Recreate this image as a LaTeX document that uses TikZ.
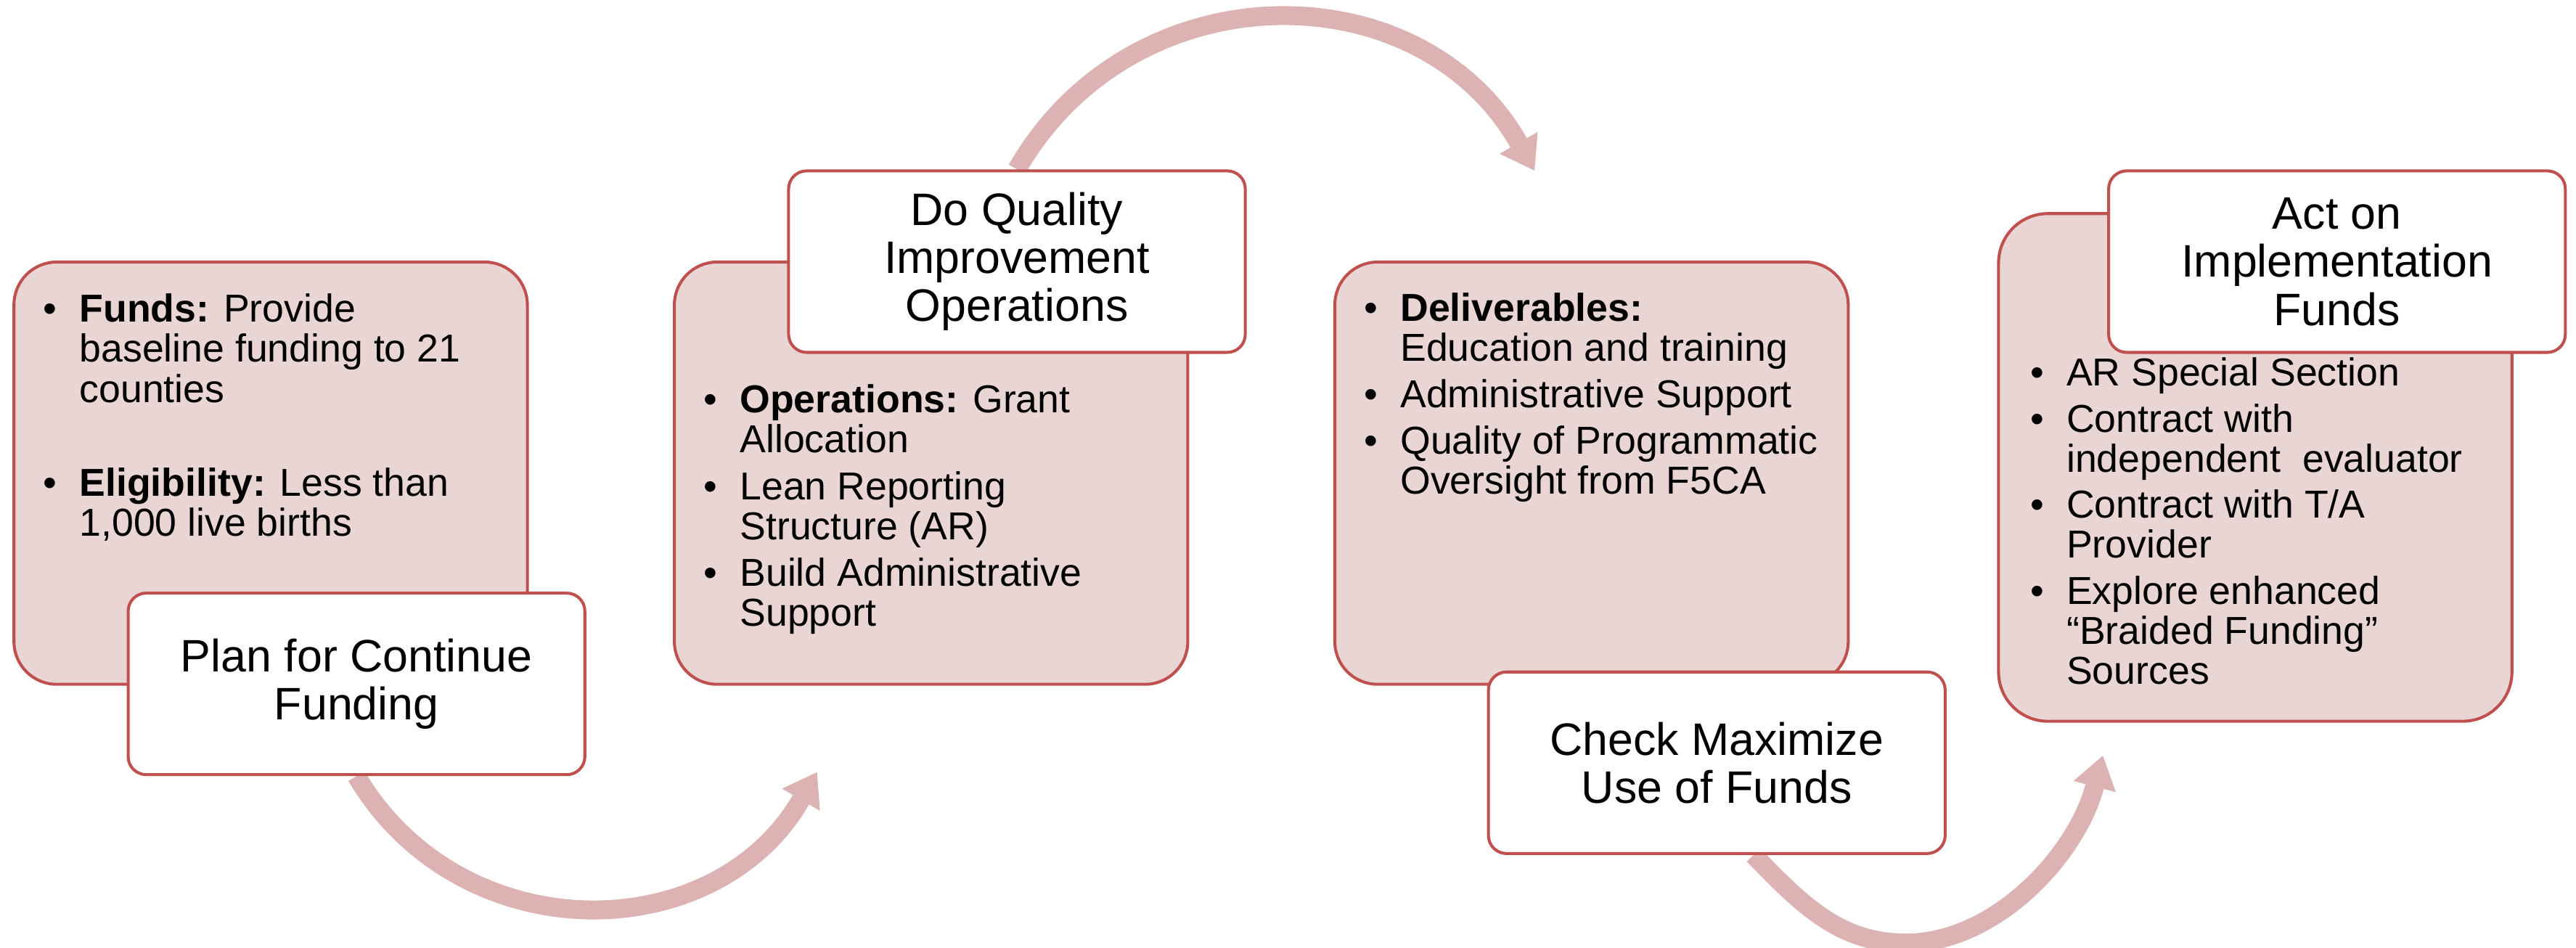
\documentclass[tikz,border=0pt]{standalone}
\usepackage{fontspec}
\setmainfont{Liberation Sans}
\usetikzlibrary{arrows.meta,calc}
\definecolor{boxred}{HTML}{C0504D}
\definecolor{boxpink}{HTML}{EAD5D5}
\definecolor{arcpink}{HTML}{DDB2B2}
\newcommand\mytitlefont{\fontsize{13.85}{14.65}\selectfont}
\newcommand\mybulletfont{\fontsize{11.85}{12.2}\selectfont}
\pgfdeclarelayer{bg}
\pgfsetlayers{bg,main}
\begin{document}
\begin{tikzpicture}[x=0.5pt,y=-0.5pt,
  pinkbox/.style={draw=boxred, line width=0.9pt, fill=boxpink, rounded corners=13pt, inner sep=0pt, minimum width=156.25pt, minimum height=128.5pt},
  whitebox/.style={draw=boxred, line width=0.9pt, fill=white, rounded corners=5.5pt, minimum width=139pt, minimum height=55.25pt, align=center, font=\mytitlefont, inner sep=0pt},
  bline/.style={anchor=base west, inner sep=0pt, font=\mybulletfont},
  bdot/.style={anchor=base, inner sep=0pt, font=\mybulletfont},
  arcflow/.style={draw=arcpink, line width=5.75pt, -{Triangle[width=13.35pt,length=9.7pt,line width=0pt]}}]
\useasboundingbox (0,0) rectangle (1568,577);

% ---- Box 1
\node[pinkbox] (p1) at (164.75,288) {};
\node[bdot] (d1a) at (30.4,196) {\textbullet};
\node[bline] (t1a) at (48,196) {\textbf{Funds:} Provide};
\node[bline] (t1b) at (48,220.4) {baseline funding to 21};
\node[bline] (t1c) at (48,244.8) {counties};
\node[bdot] (d1b) at (30.4,302) {\textbullet};
\node[bline] (t1d) at (48,302) {\textbf{Eligibility:} Less than};
\node[bline] (t1e) at (48,326.4) {1,000 live births};
\node[whitebox] (w1) at (217,416.25) {Plan for Continue\\Funding};

% ---- Box 2
\node[pinkbox] (p2) at (566.75,288) {};
\node[bdot] (d2a) at (432.4,251.2) {\textbullet};
\node[bline] (t2a) at (450,251.2) {\textbf{Operations:} Grant};
\node[bline] (t2b) at (450,275.6) {Allocation};
\node[bdot] (d2b) at (432.4,304) {\textbullet};
\node[bline] (t2c) at (450,304) {Lean Reporting};
\node[bline] (t2d) at (450,328.4) {Structure (AR)};
\node[bdot] (d2c) at (432.4,356.8) {\textbullet};
\node[bline] (t2e) at (450,356.8) {Build Administrative};
\node[bline] (t2f) at (450,381.2) {Support};
\node[whitebox] (w2) at (619,159.25) {Do Quality\\Improvement\\Operations};

% ---- Box 3
\node[pinkbox] (p3) at (968.75,288) {};
\node[bdot] (d3a) at (834.4,195.5) {\textbullet};
\node[bline] (t3a) at (852,195.5) {\textbf{Deliverables:}};
\node[bline] (t3b) at (852,219.9) {Education and training};
\node[bdot] (d3b) at (834.4,248) {\textbullet};
\node[bline] (t3c) at (852,248) {Administrative Support};
\node[bdot] (d3c) at (834.4,276.2) {\textbullet};
\node[bline] (t3d) at (852,276.2) {Quality of Programmatic};
\node[bline] (t3e) at (852,300.6) {Oversight from F5CA};
\node[whitebox] (w3) at (1045,464.25) {Check Maximize\\Use of Funds};

% ---- Box 4
\node[pinkbox, minimum height=154.5pt, rounded corners=15pt] (p4) at (1372.75,284.5) {};
\node[bdot] (d4a) at (1239.9,235) {\textbullet};
\node[bline] (t4a) at (1257.5,235) {AR Special Section};
\node[bdot] (d4b) at (1239.9,262.9) {\textbullet};
\node[bline] (t4b) at (1257.5,262.9) {Contract with};
\node[bline] (t4c) at (1257.5,287.3) {independent\ \ evaluator};
\node[bdot] (d4c) at (1239.9,315.3) {\textbullet};
\node[bline] (t4d) at (1257.5,315.3) {Contract with T/A};
\node[bline] (t4e) at (1257.5,339.7) {Provider};
\node[bdot] (d4d) at (1239.9,367.7) {\textbullet};
\node[bline] (t4f) at (1257.5,367.7) {Explore enhanced};
\node[bline] (t4g) at (1257.5,392.1) {“Braided Funding”};
\node[bline] (t4h) at (1257.5,416.5) {Sources};
\node[whitebox] (w4) at (1422.5,159.25) {Act on\\Implementation\\Funds};

% ---- arcs
\coordinate (tip1) at (497.3,470);
\coordinate (tip2) at (934,103.8);
\coordinate (tip3) at (1280,460);
\coordinate (s3) at ($(w3.south west)!0.58!(w3.south east)$);
\begin{pgfonlayer}{bg}
\draw[arcflow] (w1.south) .. controls (280,579) and (434.5,578) .. (tip1);
\draw[arcflow] (w2.north) .. controls (689,-18.9) and (864,-18.9) .. (tip2);
\draw[arcflow] (s3) .. controls (1097,551) and (1120,574) .. (1160,574) .. controls (1215,574) and (1264,520) .. (tip3);
\end{pgfonlayer}
\end{tikzpicture}
\end{document}
